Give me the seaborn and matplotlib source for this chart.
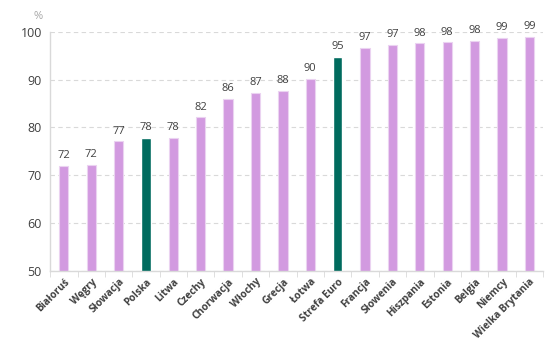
import numpy as np
import pandas as pd
import seaborn as sns
import matplotlib.pyplot as plt
from matplotlib.ticker import FixedLocator

kraje = ['Białoruś', 'Węgry', 'Słowacja', 'Polska', 'Litwa', 'Czechy', 'Chorwacja',
         'Włochy', 'Grecja', 'Łotwa', 'Strefa Euro', 'Francja', 'Słowenia',
         'Hiszpania', 'Estonia', 'Belgia', 'Niemcy', 'Wielka Brytania']
wartosci = [72.0, 72.2, 77.1, 77.9, 77.8, 82.1, 86.0, 87.2, 87.6, 90.2, 94.8,
            96.6, 97.2, 97.6, 97.8, 98.1, 98.7, 98.9]
wyroznione = ['Polska', 'Strefa Euro']

pink = '#D29AE0'
teal = '#006B5E'

df = pd.DataFrame({'kraj': kraje, 'wartosc': wartosci})
df['grupa'] = np.where(df['kraj'].isin(wyroznione), 'hl', 'rest')

sns.set_style('white')
plt.rcParams['font.family'] = ['Open Sans', 'DejaVu Sans']

fig = plt.figure(figsize=(5.57, 3.5), dpi=100)
ax = fig.add_axes([0.09, 0.226, 0.885, 0.683])

sns.barplot(data=df, x='kraj', y='wartosc', hue='grupa',
            palette={'hl': teal, 'rest': pink}, dodge=False, width=0.34,
            saturation=1, legend=False, ax=ax)
# jasna obwódka przy różowych słupkach
for bar in ax.patches:
    if bar.get_facecolor()[:3] != plt.matplotlib.colors.to_rgb(teal):
        bar.set_edgecolor('#EBD3F1')
        bar.set_linewidth(0.8)

for i, v in enumerate(wartosci):
    ax.text(i, v + 1.0, f'{round(v):d}', ha='center', va='bottom',
            fontsize=8, color='#404040')

ax.set_ylim(50, 100)
ax.set_xlim(-0.5, len(kraje) - 0.5)
ax.set_yticks(range(50, 101, 10))
ax.yaxis.grid(True, linestyle=(0, (4, 3)), color='#D9D9D9', linewidth=0.8)
ax.set_axisbelow(True)
ax.set_xlabel('')
ax.set_ylabel('')

ax.set_xticks(range(len(kraje)))
ax.set_xticklabels(kraje, rotation=45, ha='right', rotation_mode='anchor',
                   fontsize=7.3, fontweight='bold', color='#404040')
ax.tick_params(axis='x', which='major', length=0, pad=4)
ax.xaxis.set_minor_locator(FixedLocator(np.arange(-0.5, len(kraje), 1)))
ax.tick_params(axis='x', which='minor', length=4, color='#D9D9D9', bottom=True)
ax.tick_params(axis='y', length=0, labelsize=9, labelcolor='#404040', pad=6)

for s in ['top', 'right']:
    ax.spines[s].set_visible(False)
for s in ['left', 'bottom']:
    ax.spines[s].set_color('#D9D9D9')
    ax.spines[s].set_linewidth(1)

fig.text(0.068, 0.945, '%', fontsize=8, color='#A6A6A6', ha='center')

plt.savefig('out.png', dpi=100)
